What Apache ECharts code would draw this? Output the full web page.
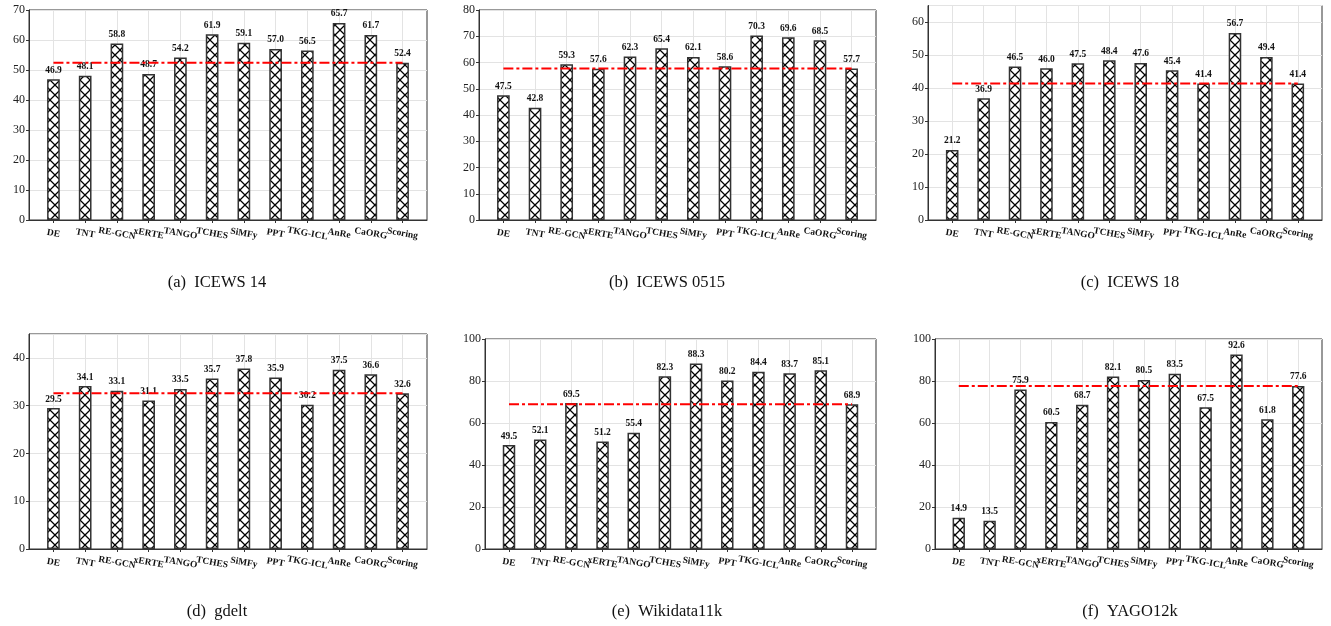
<!DOCTYPE html>
<html><head><meta charset="utf-8">
<script src="https://cdn.jsdelivr.net/npm/echarts@6/dist/echarts.min.js"></script>
<style>html,body{margin:0;padding:0;background:#fff}#c{width:1331px;height:626px}</style>
</head><body><div id="c"></div>
<script>
// ---- data ----
const categories = ['DE','TNT','RE-GCN','xERTE','TANGO','TCHES','SiMFy','PPT','TKG-ICL','AnRe','CaORG','Scoring'];
const icews14   = [46.9, 48.1, 58.8, 48.7, 54.2, 61.9, 59.1, 57.0, 56.5, 65.7, 61.7, 52.4];
const icews0515 = [47.5, 42.8, 59.3, 57.6, 62.3, 65.4, 62.1, 58.6, 70.3, 69.6, 68.5, 57.7];
const icews18   = [21.2, 36.9, 46.5, 46.0, 47.5, 48.4, 47.6, 45.4, 41.4, 56.7, 49.4, 41.4];
const gdelt     = [29.5, 34.1, 33.1, 31.1, 33.5, 35.7, 37.8, 35.9, 30.2, 37.5, 36.6, 32.6];
const wikidata  = [49.5, 52.1, 69.5, 51.2, 55.4, 82.3, 88.3, 80.2, 84.4, 83.7, 85.1, 68.9];
const yago      = [14.9, 13.5, 75.9, 60.5, 68.7, 82.1, 80.5, 83.5, 67.5, 92.6, 61.8, 77.6];
const panelTitles = ['(a)\u2002ICEWS 14', '(b)\u2002ICEWS 0515', '(c)\u2002ICEWS 18', '(d)\u2002gdelt', '(e)\u2002Wikidata11k', '(f)\u2002YAGO12k'];
const yMax = [70, 80, 65, 45, 100, 100];
const yInterval = [10, 10, 10, 10, 20, 20];
const panels = [icews14, icews0515, icews18, gdelt, wikidata, yago];

// ---- layout ----
const layout = [
  {left: 29,  top: 10,  width: 398, height: 210, tx: 217,  ty: 283},
  {left: 479, top: 10,  width: 397, height: 210, tx: 667,  ty: 283},
  {left: 928, top: 5.5, width: 394, height: 214.5, tx: 1130, ty: 283},
  {left: 29,  top: 334, width: 398, height: 215, tx: 217,  ty: 612},
  {left: 485, top: 339, width: 391, height: 210, tx: 667,  ty: 612},
  {left: 935, top: 339, width: 387, height: 210, tx: 1130, ty: 612}
];

function hatch() {
  const c = document.createElement('canvas');
  c.width = 10; c.height = 10;
  const g = c.getContext('2d');
  g.fillStyle = '#fff'; g.fillRect(0, 0, 10, 10);
  g.strokeStyle = '#000'; g.lineWidth = 1.25;
  g.beginPath();
  g.moveTo(-1, -1); g.lineTo(11, 11);
  g.moveTo(11, -1); g.lineTo(-1, 11);
  g.stroke();
  return c;
}
const pattern = {image: hatch(), repeat: 'repeat'};
const ticks = categories.map((_, i) => i);
const evenTicks = ticks.filter(i => i % 2 === 0);
const oddTicks = ticks.filter(i => i % 2 === 1);
const serif = 'Liberation Serif';

function catLabel(values) {
  return {show: true, customValues: values, formatter: v => categories[Math.round(v)], rotate: -10,
          align: 'center', verticalAlign: 'middle', margin: 13.5,
          showMinLabel: true, showMaxLabel: true, hideOverlap: false,
          fontFamily: serif, fontWeight: 'bold', fontSize: 9.5, color: '#111'};
}

const grid = [], xAxis = [], yAxis = [], series = [], graphic = [];
panels.forEach((vals, k) => {
  const L = layout[k];
  grid.push({left: L.left, top: L.top, width: L.width, height: L.height, show: true,
             borderColor: '#333', borderWidth: 1, backgroundColor: 'transparent'});
  xAxis.push({
    gridIndex: k, type: 'value', position: 'bottom', min: -0.77, max: 11.77,
    axisLine: {show: true, onZero: false, lineStyle: {color: '#333', width: 1}},
    axisTick: {show: true, customValues: ticks, length: 3, lineStyle: {color: '#333'}},
    axisLabel: catLabel(evenTicks),
    splitLine: {show: true, lineStyle: {color: '#e3e3e3', width: 1}}
  });
  xAxis.push({
    gridIndex: k, type: 'value', position: 'bottom', offset: 0, min: -0.77, max: 11.77,
    axisLine: {show: false, onZero: false},
    axisTick: {show: false},
    axisLabel: catLabel(oddTicks),
    splitLine: {show: false}
  });
  yAxis.push({
    gridIndex: k, type: 'value', min: 0, max: yMax[k], interval: yInterval[k],
    axisLine: {show: true, onZero: false, lineStyle: {color: '#333', width: 1}},
    axisTick: {show: true, length: 3, lineStyle: {color: '#333'}},
    axisLabel: {margin: 4, fontFamily: serif, fontSize: 12, color: '#222',
                showMaxLabel: yMax[k] % yInterval[k] === 0},
    splitLine: {show: true, lineStyle: {color: '#e3e3e3', width: 1}}
  });
  series.push({
    type: 'bar', xAxisIndex: 2 * k, yAxisIndex: k, barWidth: '40%',
    data: vals.map((v, i) => [i, v]),
    itemStyle: {color: pattern, borderColor: '#333', borderWidth: 1.5},
    label: {show: true, position: 'top', distance: 4, formatter: p => p.value[1].toFixed(1),
            fontFamily: serif, fontWeight: 'bold', fontSize: 9.5, color: '#111'},
    silent: true, z: 2
  });
  const s = vals[vals.length - 1];
  series.push({
    type: 'line', xAxisIndex: 2 * k, yAxisIndex: k, symbol: 'none', silent: true, z: 5,
    data: [[0, s], [vals.length - 1, s]],
    lineStyle: {color: '#ff0000', width: 2, type: [10, 3, 3, 3]}
  });
  graphic.push({type: 'text', x: L.tx, y: L.ty,
    style: {text: panelTitles[k], textAlign: 'center', textVerticalAlign: 'middle',
            font: '16.5px "Liberation Serif"', fill: '#111'}});
});

const chart = echarts.init(document.getElementById('c'), null, {renderer: 'canvas'});
chart.setOption({animation: false, backgroundColor: '#fff', grid, xAxis, yAxis, series, graphic});
</script></body></html>
